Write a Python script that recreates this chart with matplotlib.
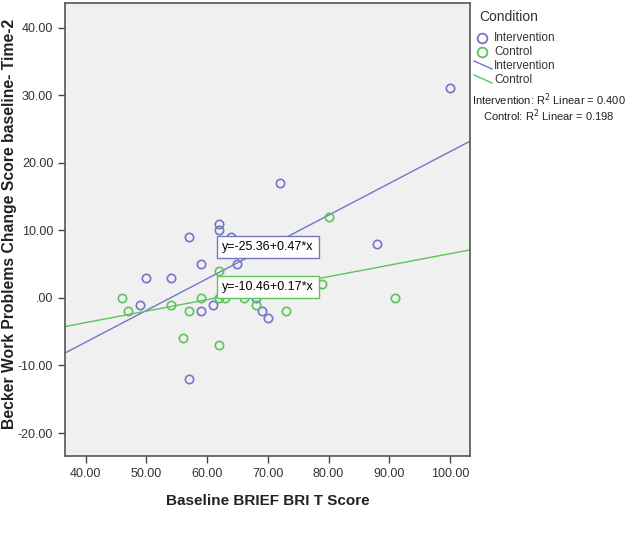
import matplotlib
matplotlib.use("Agg")
import matplotlib.pyplot as plt
from matplotlib.lines import Line2D
import numpy as np

plt.rcParams['font.family'] = ['Liberation Sans', 'DejaVu Sans']

# ---------------- data ----------------
int_x = [100, 72, 88, 62, 62, 64, 57, 59, 65, 50, 54, 49, 61, 59, 69, 70, 57, 68]
int_y = [31, 17, 8, 11, 10, 9, 9, 5, 5, 3, 3, -1, -1, -2, -2, -3, -12, 0]
ctl_x = [80, 62, 46, 47, 54, 57, 59, 62, 63, 66, 68, 73, 79, 91, 56, 62]
ctl_y = [12, 4, 0, -2, -1, -2, 0, 0, 0, 0, -1, -2, 2, 0, -6, -7]

int_fit = (-25.36, 0.47)
ctl_fit = (-10.46, 0.17)
r2_int = 0.400
r2_ctl = 0.198

xticks = [40, 50, 60, 70, 80, 90, 100]
yticks = [-20, -10, 0, 10, 20, 30, 40]

blue = '#7474c8'
green = '#5cc45c'

# ---------------- plot ----------------
fig = plt.figure(figsize=(6.27, 5.33), dpi=100)
ax = fig.add_axes([0.1037, 0.1445, 0.6459, 0.8493])
ax.set_facecolor('#f0f0f0')

xlim = (36.6, 103.3)
ylim = (-23.4, 43.6)

xs = np.array(xlim)
ax.plot(xs, int_fit[0] + int_fit[1] * xs, color=blue, lw=1.0, zorder=2)
ax.plot(xs, ctl_fit[0] + ctl_fit[1] * xs, color=green, lw=1.0, zorder=2)

ax.plot(int_x, int_y, 'o', mfc='none', mec=blue, ms=6, mew=1.2, zorder=3)
ax.plot(ctl_x, ctl_y, 'o', mfc='none', mec=green, ms=6, mew=1.2, zorder=3)

ax.text(62.5, 7.5, "y=-25.36+0.47*x", fontsize=9, va='center', ha='left', zorder=5,
        bbox=dict(boxstyle='square,pad=0.4', fc='white', ec=blue, lw=1.0))
ax.text(62.5, 1.6, "y=-10.46+0.17*x", fontsize=9, va='center', ha='left', zorder=5,
        bbox=dict(boxstyle='square,pad=0.4', fc='white', ec=green, lw=1.0))

ax.set_xlim(xlim)
ax.set_ylim(ylim)
ax.set_xticks(xticks)
ax.set_xticklabels(["%.2f" % v for v in xticks])
ax.set_yticks(yticks)
ax.set_yticklabels([".00" if v == 0 else "%.2f" % v for v in yticks])
ax.tick_params(direction='out', length=5, width=1, colors='#444444', labelsize=9,
               labelcolor='#333333')
for s in ax.spines.values():
    s.set_color('#555555')
    s.set_linewidth(1.2)

ax.set_xlabel("Baseline BRIEF BRI T Score", fontsize=11, fontweight='bold',
              color='#222222', labelpad=10)
ax.set_ylabel("Becker Work Problems Change Score baseline- Time-2", fontsize=11.3,
              fontweight='bold', color='#222222')
ax.yaxis.set_label_coords(-0.118, 0.512)

# ---------------- legend ----------------
W, H = 627.0, 533.0
def fx(px):
    return px / W
def fy(py):
    return 1 - py / H

fig.text(fx(479), fy(17), "Condition", fontsize=10, color='#333333', va='center')
fig.add_artist(Line2D([fx(482)], [fy(38)], marker='o', mfc='none', mec=blue, ms=7, mew=1.3))
fig.add_artist(Line2D([fx(482)], [fy(52)], marker='o', mfc='none', mec=green, ms=7, mew=1.3))
fig.add_artist(Line2D([fx(474), fx(492)], [fy(61), fy(69)], color=blue, lw=1.0))
fig.add_artist(Line2D([fx(474), fx(492)], [fy(75), fy(83)], color=green, lw=1.0))
fig.text(fx(494), fy(38), "Intervention", fontsize=8.5, color='#333333', va='center')
fig.text(fx(494), fy(52), "Control", fontsize=8.5, color='#333333', va='center')
fig.text(fx(494), fy(66), "Intervention", fontsize=8.5, color='#333333', va='center')
fig.text(fx(494), fy(80), "Control", fontsize=8.5, color='#333333', va='center')
fig.text(fx(549), fy(100), "Intervention: R$^2$ Linear = %.3f" % r2_int, fontsize=8,
         color='#222222', va='center', ha='center')
fig.text(fx(549), fy(116), "Control: R$^2$ Linear = %.3f" % r2_ctl, fontsize=8,
         color='#222222', va='center', ha='center')

fig.savefig("out.png", dpi=100)
